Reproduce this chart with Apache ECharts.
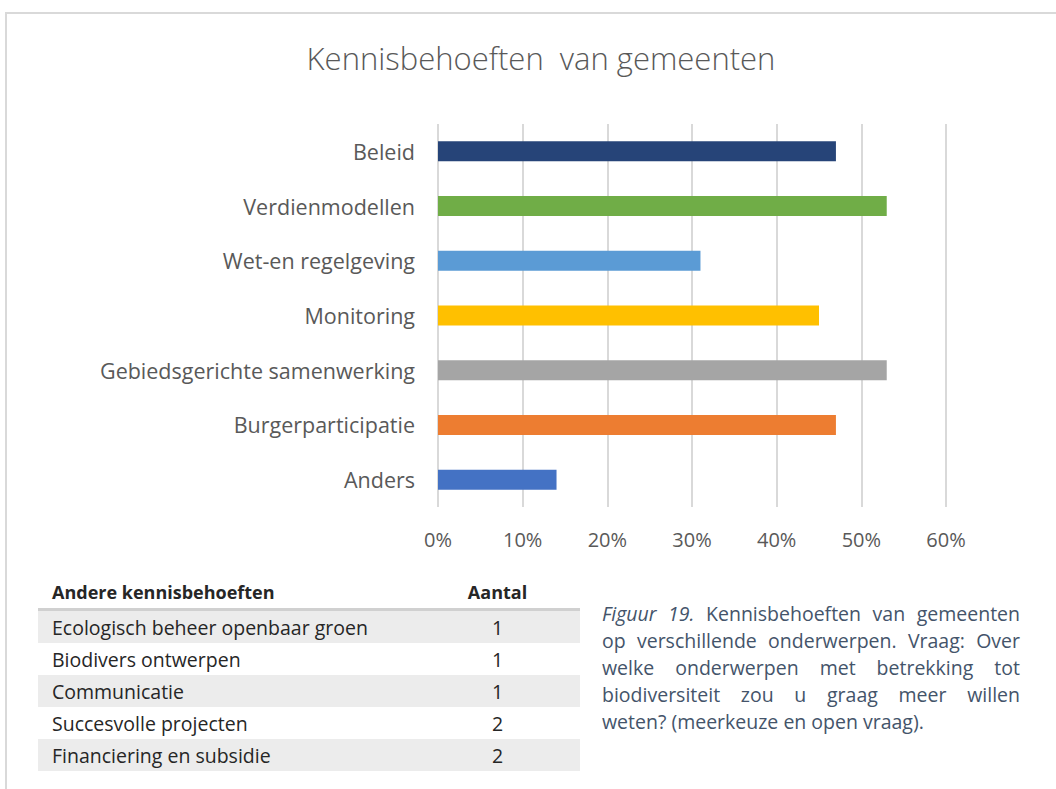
<!DOCTYPE html>
<html lang="nl">
<head>
<meta charset="utf-8">
<title>Kennisbehoeften van gemeenten</title>
<script src="https://cdn.jsdelivr.net/npm/echarts@6/dist/echarts.min.js"></script>
<style>
  html, body { margin: 0; padding: 0; background: #fff; }
  #page { position: relative; width: 1056px; height: 789px; overflow: hidden; font-family: "Open Sans", Lato, sans-serif; }
  #frame { position: absolute; left: 5px; top: 12px; right: -10px; bottom: -10px;
           border-top: 2px solid #d9d9d9; border-left: 2px solid #d9d9d9; }
  #chart { position: absolute; left: 0; top: 0; width: 1056px; height: 789px; }
  #others { position: absolute; left: 38px; top: 575px; width: 542px; border-collapse: collapse;
            font-size: 19.5px; color: #262626; }
  #others th { font-weight: 700; font-size: 18px; text-align: left; padding: 0 0 0 14px; height: 33px;
               border-bottom: 3px solid #d0d0d0; }
  #others th.n, #others td.n { text-align: center; padding: 0; width: 165px; }
  #others td { padding: 0 0 0 14px; height: 32px; }
  #others tr.alt td { background: #ececec; }
  #caption { position: absolute; left: 602px; top: 600px; width: 418px; margin: 0;
             font-size: 19.5px; line-height: 27px; color: #44546a; }
  #caption span { display: block; text-align: justify; text-align-last: justify; white-space: nowrap; }
  #caption span:last-child { text-align-last: left; }
</style>
</head>
<body>
<div id="page">
  <div id="frame"></div>
  <div id="chart"></div>
  <table id="others"><thead></thead><tbody></tbody></table>
  <p id="caption"><span><i>Figuur 19.</i> Kennisbehoeften van gemeenten</span><span>op verschillende onderwerpen. Vraag: Over</span><span>welke onderwerpen met betrekking tot</span><span>biodiversiteit zou u graag meer willen</span><span>weten? (meerkeuze en open vraag).</span></p>
</div>
<script>
// bar chart: share of municipalities (%) per topic
const categories = ["Beleid", "Verdienmodellen", "Wet-en regelgeving", "Monitoring",
                    "Gebiedsgerichte samenwerking", "Burgerparticipatie", "Anders"];
const shares = [47, 53, 31, 45, 53, 47, 14];
const barColors = ["#264478", "#70ad47", "#5b9bd5", "#ffc000", "#a5a5a5", "#ed7d31", "#4472c4"];
const xTicks = [0, 10, 20, 30, 40, 50, 60];

// table below the chart: other knowledge needs (open answers)
const tableHeader = ["Andere kennisbehoeften", "Aantal"];
const otherNeeds = ["Ecologisch beheer openbaar groen", "Biodivers ontwerpen", "Communicatie",
                    "Succesvolle projecten", "Financiering en subsidie"];
const otherCounts = [1, 1, 1, 2, 2];

const FONT = "'Open Sans', Lato, sans-serif";
const GREY = "#595959";

const chart = echarts.init(document.getElementById("chart"), null, { renderer: "svg" });
chart.setOption({
  animation: false,
  textStyle: { fontFamily: FONT },
  title: {
    text: "Kennisbehoeften  van gemeenten",
    left: 536, top: 37, textAlign: "center",
    textStyle: { color: GREY, fontSize: 31, fontWeight: 300, fontFamily: FONT },
  },
  grid: { left: 438, right: 110, top: 124, bottom: 282, containLabel: false },
  xAxis: {
    type: "value", min: xTicks[0], max: xTicks[xTicks.length - 1], interval: 10,
    axisLine: { show: false }, axisTick: { show: false },
    axisLabel: { color: GREY, fontSize: 20, margin: 22, formatter: v => v + "%" },
    splitLine: { lineStyle: { color: "#d9d9d9", width: 2 } },
  },
  yAxis: {
    type: "category", data: categories, inverse: true,
    axisLine: { show: false }, axisTick: { show: false },
    axisLabel: { color: GREY, fontSize: 21.5, margin: 23 },
  },
  series: [{
    type: "bar", barWidth: 20,
    data: shares.map((v, i) => ({ value: v, itemStyle: { color: barColors[i] } })),
  }],
});

// fill the table from the arrays
const thead = document.querySelector("#others thead");
thead.innerHTML = `<tr><th>${tableHeader[0]}</th><th class="n">${tableHeader[1]}</th></tr>`;
const tbody = document.querySelector("#others tbody");
otherNeeds.forEach((name, i) => {
  const tr = document.createElement("tr");
  if (i % 2 === 0) tr.className = "alt";
  tr.innerHTML = `<td>${name}</td><td class="n">${otherCounts[i]}</td>`;
  tbody.appendChild(tr);
});
</script>
</body>
</html>
